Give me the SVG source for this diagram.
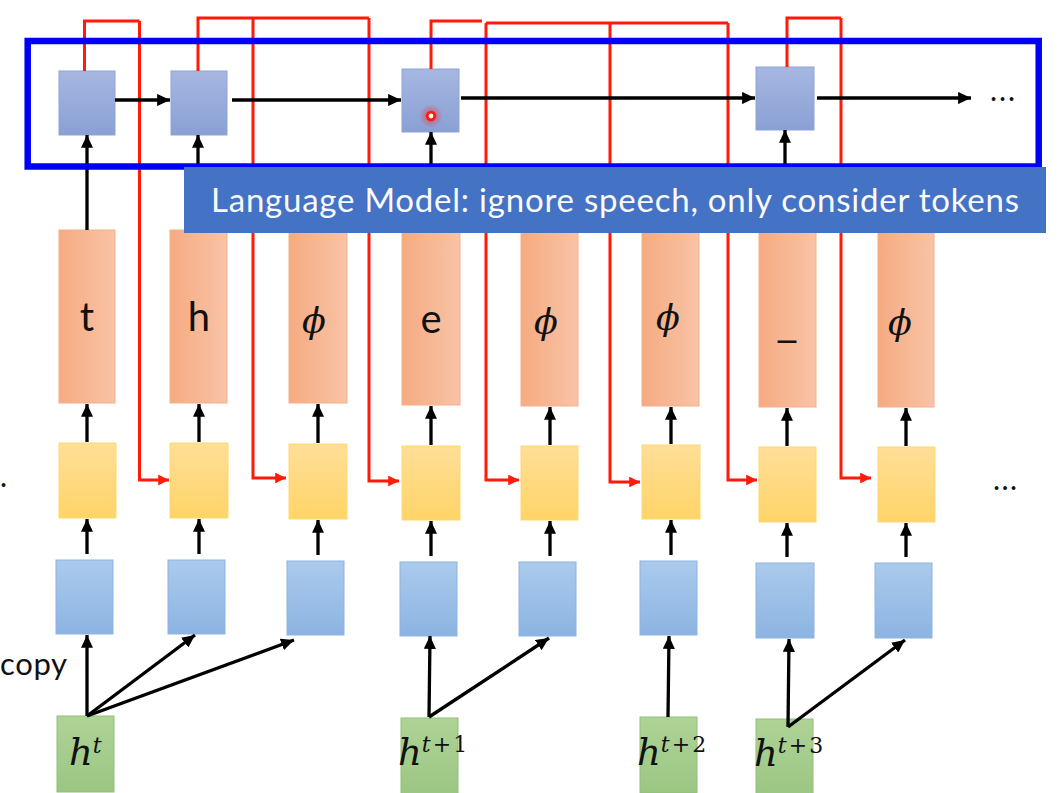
<svg xmlns="http://www.w3.org/2000/svg" width="1062" height="793" viewBox="0 0 1062 793">
<style>
.lm{fill:url(#gLM);stroke:#8ea3d6;stroke-width:1}
.or{fill:url(#gOr);stroke:#f5b08a;stroke-width:1}
.ye{fill:url(#gYe);stroke:#ffd86e;stroke-width:1}
.bl{fill:url(#gBl);stroke:#8cb3e0;stroke-width:1}
.gr{fill:url(#gGr);stroke:#90bf78;stroke-width:1}
.tok{font-family:Lato,"Open Sans",sans-serif;font-size:40px;fill:#111;text-anchor:middle}
.phi{font-family:"DejaVu Serif",serif;font-style:italic;font-size:35px;fill:#111;text-anchor:middle}
.hv{font-family:"DejaVu Serif",serif;font-style:italic;font-size:37px;fill:#111}
.sup{font-size:22px}
.up{font-style:normal}
.blk{fill:none;stroke:#000;stroke-width:3.3;marker-end:url(#ab)}
.red{fill:none;stroke:#ff1a0a;stroke-width:3}
.reda{fill:none;stroke:#ff1a0a;stroke-width:3;marker-end:url(#ar)}
.dots{font-family:Lato,sans-serif;font-size:30px;fill:#111}
</style>
<defs>
<linearGradient id="gLM" x1="0" y1="0" x2="0" y2="1"><stop offset="0" stop-color="#a6b7e1"/><stop offset="1" stop-color="#8aa0d5"/></linearGradient>
<linearGradient id="gOr" x1="0" y1="0" x2="1" y2="0"><stop offset="0" stop-color="#f5ab82"/><stop offset="1" stop-color="#f9c3a6"/></linearGradient>
<linearGradient id="gYe" x1="0" y1="0" x2="0" y2="1"><stop offset="0" stop-color="#ffdf98"/><stop offset="1" stop-color="#ffd467"/></linearGradient>
<linearGradient id="gBl" x1="0" y1="0" x2="0" y2="1"><stop offset="0" stop-color="#abcaec"/><stop offset="1" stop-color="#8cb4e2"/></linearGradient>
<linearGradient id="gGr" x1="0" y1="0" x2="0" y2="1"><stop offset="0" stop-color="#aed396"/><stop offset="1" stop-color="#9cc683"/></linearGradient>
<radialGradient id="glow"><stop offset="0" stop-color="#ff2020" stop-opacity="0.65"/><stop offset="1" stop-color="#ff2020" stop-opacity="0"/></radialGradient>
<marker id="ab" viewBox="0 0 12 12" refX="12" refY="6" markerWidth="3.9" markerHeight="3.7" orient="auto" preserveAspectRatio="none"><path d="M0,0 L12,6 L0,12 z" fill="#000"/></marker>
<marker id="ar" viewBox="0 0 12 12" refX="12" refY="6" markerWidth="3.6" markerHeight="3.6" orient="auto" preserveAspectRatio="none"><path d="M0,0 L12,6 L0,12 z" fill="#ff1a0a"/></marker>
</defs>
<rect width="1062" height="793" fill="#fff"/>

<g id="lm-boxes">
<g id="lm1"><rect class="lm" x="59" y="71" width="56" height="64"/></g>
<g id="lm2"><rect class="lm" x="171" y="71" width="56" height="64"/></g>
<g id="lm4"><rect class="lm" x="402" y="69" width="57" height="63"/>
<circle cx="431" cy="116" r="12" fill="url(#glow)"/><circle cx="431" cy="116" r="3.8" fill="#fff" stroke="#ff1a0a" stroke-width="2.8"/></g>
<g id="lm7"><rect class="lm" x="756" y="67" width="58" height="63"/></g>
<text class="dots" x="990" y="101" textLength="25">...</text>
</g>

<g id="col1">
<rect class="or" x="59" y="230" width="56" height="173"/><text class="tok" x="87" y="331">t</text>
<rect class="ye" x="59" y="443" width="57" height="75"/>
<rect class="bl" x="56" y="560" width="57" height="74"/>
</g>
<g id="col2">
<rect class="or" x="170" y="230" width="57" height="173"/><text class="tok" x="199" y="331">h</text>
<rect class="ye" x="170" y="443" width="58" height="75"/>
<rect class="bl" x="168" y="560" width="57" height="74"/>
</g>
<g id="col3">
<rect class="or" x="289" y="230" width="58" height="173"/><text class="phi" x="314" y="333">ϕ</text>
<rect class="ye" x="289" y="444" width="58" height="75"/>
<rect class="bl" x="287" y="561" width="57" height="74"/>
</g>
<g id="col4">
<rect class="or" x="402" y="231" width="58" height="174"/><text class="tok" x="431" y="333">e</text>
<rect class="ye" x="402" y="446" width="58" height="74"/>
<rect class="bl" x="400" y="562" width="57" height="74"/>
</g>
<g id="col5">
<rect class="or" x="521" y="232" width="57" height="174"/><text class="phi" x="546" y="334">ϕ</text>
<rect class="ye" x="521" y="446" width="57" height="74"/>
<rect class="bl" x="519" y="562" width="57" height="74"/>
</g>
<g id="col6">
<rect class="or" x="642" y="231" width="57" height="175"/><text class="phi" x="668" y="330">ϕ</text>
<rect class="ye" x="642" y="445" width="58" height="74"/>
<rect class="bl" x="640" y="561" width="57" height="74"/>
</g>
<g id="col7">
<rect class="or" x="759" y="231" width="57" height="176"/><text class="tok" x="776" y="337" textLength="22" lengthAdjust="spacingAndGlyphs" style="text-anchor:start">_</text>
<rect class="ye" x="759" y="447" width="57" height="75"/>
<rect class="bl" x="756" y="563" width="58" height="75"/>
</g>
<g id="col8">
<rect class="or" x="878" y="231" width="56" height="176"/><text class="phi" x="900" y="335">ϕ</text>
<rect class="ye" x="878" y="447" width="57" height="75"/>
<rect class="bl" x="875" y="563" width="57" height="75"/>
</g>

<g id="h-t"><rect class="gr" x="57" y="716" width="57" height="76"/>
<text class="hv" x="69" y="765">h<tspan class="sup" dy="-12">t</tspan></text></g>
<g id="h-t1"><rect class="gr" x="401" y="718" width="57" height="76"/>
<text class="hv" x="398" y="765">h<tspan class="sup" dy="-13">t</tspan><tspan class="sup up" dx="2">+</tspan><tspan class="sup up" dx="2">1</tspan></text></g>
<g id="h-t2"><rect class="gr" x="640" y="717" width="57" height="76"/>
<text class="hv" x="637" y="765">h<tspan class="sup" dy="-13">t</tspan><tspan class="sup up" dx="2">+</tspan><tspan class="sup up" dx="2">2</tspan></text></g>
<g id="h-t3"><rect class="gr" x="756" y="719" width="57" height="76"/>
<text class="hv" x="754" y="766">h<tspan class="sup" dy="-13">t</tspan><tspan class="sup up" dx="2">+</tspan><tspan class="sup up" dx="2">3</tspan></text></g>

<text class="dots" x="0" y="487">.</text>
<text class="dots" x="993" y="490" textLength="24">...</text>
<text id="copy-label" x="0" y="675" font-family="Lato,sans-serif" font-size="31" fill="#111" textLength="67">copy</text>

<g id="connectors">
<path class="red" d="M84.5,71 V21 H139.5"/>
<path class="reda" d="M139.5,21 V480 H169"/>
<path class="red" d="M198,71 V18 H369"/>
<path class="reda" d="M369,18 V481 H399"/>
<path class="reda" d="M253,18 V478 H286"/>
<path class="red" d="M431,69 V21 H482"/>
<path class="red" d="M486,23 H728"/>
<path class="reda" d="M486,23 V480 H519"/>
<path class="reda" d="M610,23 V482 H640"/>
<path class="reda" d="M728,23 V480 H757"/>
<path class="red" d="M787,67 V18 H841"/>
<path class="reda" d="M841,18 V478 H871"/>
<line class="blk" x1="115" y1="100" x2="170" y2="100"/>
<line class="blk" x1="232" y1="100" x2="401" y2="100"/>
<line class="blk" x1="461" y1="98" x2="755" y2="98"/>
<line class="blk" x1="817" y1="98" x2="971" y2="98"/>
<line class="blk" x1="87" y1="230" x2="87" y2="135"/>
<line class="blk" x1="198" y1="233" x2="198" y2="135"/>
<line class="blk" x1="431" y1="233" x2="431" y2="132"/>
<line class="blk" x1="785" y1="233" x2="785" y2="130"/>
<line class="blk" x1="87" y1="442" x2="87" y2="404"/>
<line class="blk" x1="199" y1="442" x2="199" y2="404"/>
<line class="blk" x1="318" y1="443" x2="318" y2="404"/>
<line class="blk" x1="431" y1="445" x2="431" y2="406"/>
<line class="blk" x1="550" y1="445" x2="550" y2="407"/>
<line class="blk" x1="671" y1="444" x2="671" y2="407"/>
<line class="blk" x1="787" y1="446" x2="787" y2="408"/>
<line class="blk" x1="906" y1="446" x2="906" y2="408"/>
<line class="blk" x1="87" y1="554" x2="87" y2="519"/>
<line class="blk" x1="199" y1="554" x2="199" y2="519"/>
<line class="blk" x1="318" y1="555" x2="318" y2="520"/>
<line class="blk" x1="431" y1="556" x2="431" y2="521"/>
<line class="blk" x1="550" y1="556" x2="550" y2="521"/>
<line class="blk" x1="671" y1="555" x2="671" y2="520"/>
<line class="blk" x1="787" y1="557" x2="787" y2="523"/>
<line class="blk" x1="906" y1="557" x2="906" y2="523"/>
<line class="blk" x1="87" y1="716" x2="87" y2="635"/>
<line class="blk" x1="87" y1="716" x2="195" y2="635"/>
<line class="blk" x1="87" y1="716" x2="294" y2="640"/>
<line class="blk" x1="429" y1="717" x2="430" y2="636"/>
<line class="blk" x1="429" y1="717" x2="549" y2="638"/>
<line class="blk" x1="668" y1="717" x2="669" y2="636"/>
<line class="blk" x1="788" y1="727" x2="789" y2="639"/>
<line class="blk" x1="788" y1="727" x2="905" y2="640"/>
</g>

<g id="lm-frame"><rect x="27.7" y="41" width="1011" height="125.5" fill="none" stroke="#0000f5" stroke-width="6.5"/></g>

<g id="banner">
<rect x="184" y="167" width="862" height="66" fill="#4472c4"/>
<text x="211" y="212" font-family="Lato,'Open Sans',sans-serif" font-size="33" fill="#fafafa" textLength="808">Language Model: ignore speech, only consider tokens</text>
</g>
</svg>
